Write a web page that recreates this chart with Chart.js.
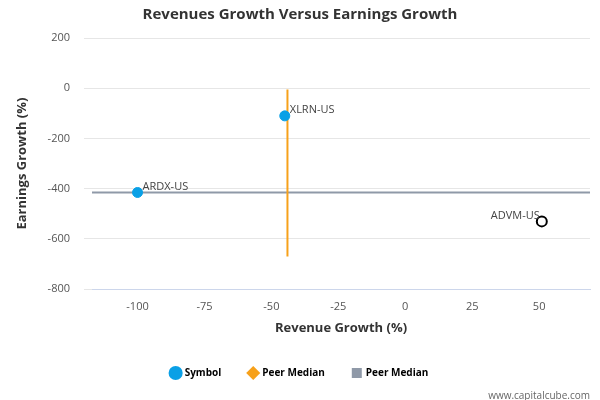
<!DOCTYPE html>
<html><head><script src="https://cdn.jsdelivr.net/npm/chart.js"></script>
<style>body{margin:0;background:#fff}</style></head>
<body><canvas id="c" width="600" height="400" style="width:600px;height:400px"></canvas>
<script>
const symbols=["XLRN-US","ARDX-US"];
const symX=[-45,-100];
const symY=[-110,-415];
const subjName="ADVM-US", subjX=51, subjY=-530;
const vMedX=-44, vMedY=[-5,-670];
const hMedY=-415, hMedX=[-117,69];
const xTicks=[-100,-75,-50,-25,0,25,50];
const yTicks=[200,0,-200,-400,-600,-800];
const F="'Open Sans', 'DejaVu Sans', sans-serif";
const labelPlugin={id:'lbl',afterDatasetsDraw(ch){
 const c=ch.ctx,xs=ch.scales.x,ys=ch.scales.y;c.save();c.font="11px "+F;c.fillStyle="#444";
 symbols.forEach((s,i)=>{c.textAlign='left';c.fillText(s,xs.getPixelForValue(symX[i])+5,ys.getPixelForValue(symY[i])-6);});
 c.textAlign='right';c.fillText(subjName,xs.getPixelForValue(subjX)-2,ys.getPixelForValue(subjY)-6);
 c.font="10px "+F;c.fillStyle="#666";c.textAlign='right';c.fillText("www.capitalcube.com",590,396);
 c.restore();}};
new Chart(document.getElementById('c'),{type:'scatter',
data:{datasets:[
 {label:'Symbol',data:symX.map((x,i)=>({x,y:symY[i]})),backgroundColor:'#0aa0e6',borderColor:'#0aa0e6',pointRadius:5,pointHoverRadius:5},
 {label:'Peer Median',data:vMedY.map(y=>({x:vMedX,y})),showLine:true,borderColor:'#f7a11a',backgroundColor:'#f7a11a',borderWidth:2,pointRadius:0,pointStyle:'rectRot'},
 {label:'Peer Median',data:hMedX.map(x=>({x,y:hMedY})),showLine:true,borderColor:'#8f99a8',backgroundColor:'#8f99a8',borderWidth:2,pointRadius:0,pointStyle:'rect'},
 {label:'subj',data:[{x:subjX,y:subjY}],backgroundColor:'#fff',borderColor:'#000',borderWidth:2,pointRadius:5}
]},
options:{responsive:false,animation:false,devicePixelRatio:1,
 layout:{padding:{left:10,right:10,top:0,bottom:12}},
 plugins:{title:{display:true,text:'Revenues Growth Versus Earnings Growth',font:{family:F,size:15,weight:'bold'},color:'#333',padding:{top:6,bottom:14}},
  legend:{position:'bottom',labels:{filter:i=>i.text!=='subj',usePointStyle:true,font:{family:F,size:10,weight:'bold'},color:'#333',boxWidth:8,padding:28,
   generateLabels(ch){return ch.data.datasets.map((d,i)=>({text:d.label,fillStyle:d.backgroundColor,strokeStyle:d.borderColor,pointStyle:i==0?'circle':(i==1?'rectRot':'rect'),datasetIndex:i,lineWidth:0}));}}},
  tooltip:{enabled:false}},
 scales:{
  x:{min:-117,max:69,afterBuildTicks(a){a.ticks=xTicks.map(v=>({value:v}));},grid:{display:false},border:{color:'#ccd6eb'},
   ticks:{font:{family:F,size:11},color:'#555'},title:{display:true,text:'Revenue Growth (%)',font:{family:F,size:13,weight:'bold'},color:'#333'}},
  y:{min:-800,max:200,afterBuildTicks(a){a.ticks=yTicks.map(v=>({value:v}));},grid:{color:'#e6e6e6'},border:{display:false},
   ticks:{font:{family:F,size:11},color:'#555',padding:14},title:{display:true,text:'Earnings Growth (%)',font:{family:F,size:13,weight:'bold'},color:'#333'}}
 }},plugins:[labelPlugin]});
</script></body></html>
